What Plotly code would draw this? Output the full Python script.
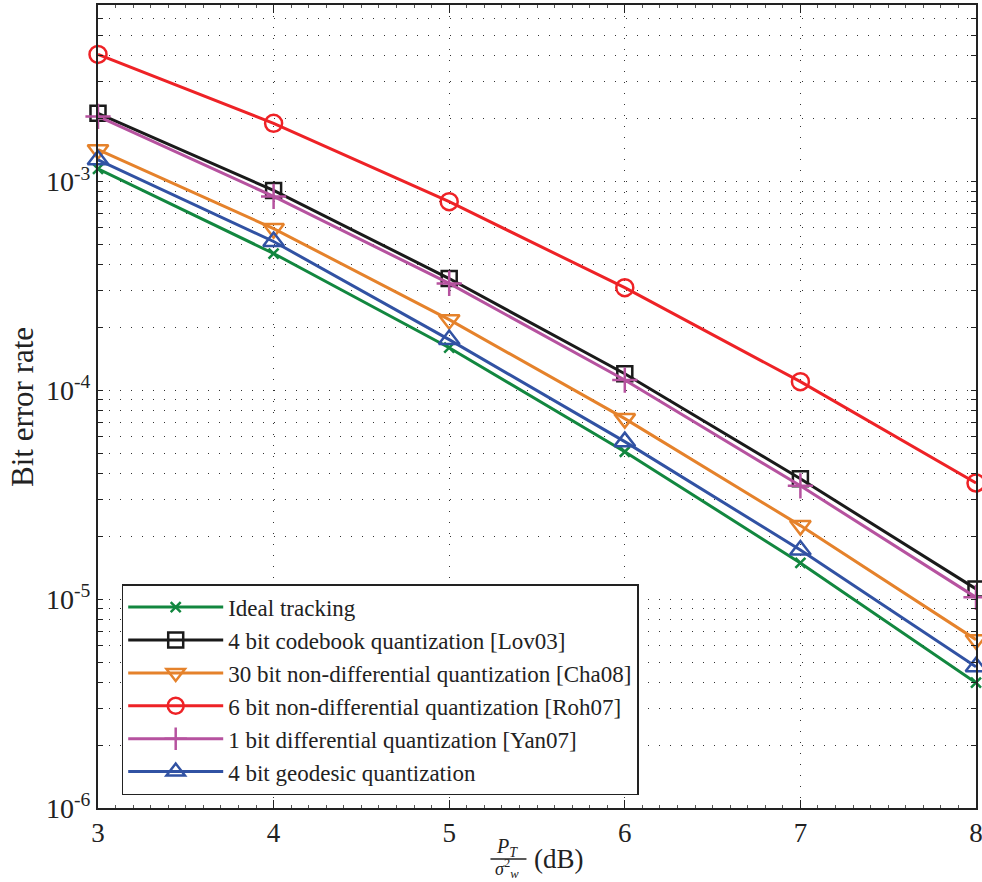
import math
import plotly.graph_objects as go

snr_db = [3, 4, 5, 6, 7, 8]

ideal = [1.15e-3, 4.52e-4, 1.60e-4, 5.08e-5, 1.49e-5, 3.98e-6]
lov03 = [2.12e-3, 9.06e-4, 3.43e-4, 1.20e-4, 3.77e-5, 1.12e-5]
cha08 = [1.42e-3, 5.95e-4, 2.18e-4, 7.32e-5, 2.25e-5, 6.4e-6]
roh07 = [4.06e-3, 1.90e-3, 8.0e-4, 3.1e-4, 1.10e-4, 3.6e-5]
yan07 = [2.05e-3, 8.48e-4, 3.25e-4, 1.12e-4, 3.49e-5, 1.02e-5]
geodesic = [1.27e-3, 5.16e-4, 1.75e-4, 5.68e-5, 1.72e-5, 4.75e-6]

names = [
    "Ideal tracking",
    "4 bit codebook quantization [Lov03]",
    "30 bit non-differential quantization [Cha08]",
    "6 bit non-differential quantization [Roh07]",
    "1 bit differential quantization [Yan07]",
    "4 bit geodesic quantization",
]
series = [ideal, lov03, cha08, roh07, yan07, geodesic]
colors = ["#12873f", "#1a1a1a", "#e5822b", "#ee2226", "#b6529f", "#3152a3"]
symbols = ["x-thin", "square-open", "triangle-down-open", "circle-open", "cross-thin", "triangle-up-open"]
sizes = [10, 15, 18, 17, 18, 18]

y_min, y_max = 1e-6, 7e-3

# y tick values (decades labelled, minor values unlabelled for dotted grid)
decades = [-6, -5, -4, -3]
ytickvals = []
yticktext = []
for e in decades:
    for k in range(1, 10):
        v = k * 10.0 ** e
        if v > y_max * 1.001:
            break
        ytickvals.append(v)
        yticktext.append(f"10<sup>{e}</sup>" if k == 1 else " ")

fig = go.Figure()
for name, ys, c, s, sz in zip(names, series, colors, symbols, sizes):
    fig.add_trace(go.Scatter(
        x=snr_db, y=ys, name=name, mode="lines+markers",
        line=dict(color=c, width=3),
        marker=dict(symbol=s, size=sz, color=c, line=dict(color=c, width=2.5)),
        cliponaxis=False,
    ))

font_family = "Liberation Serif"

fig.update_layout(
    width=982, height=882,
    margin=dict(l=98, r=6, t=5, b=74),
    paper_bgcolor="white", plot_bgcolor="white",
    font=dict(family=font_family, size=24, color="#222222"),
    showlegend=True,
    legend=dict(
        x=0.027, y=0.016, xanchor="left", yanchor="bottom",
        bgcolor="white", bordercolor="#222222", borderwidth=1.5,
        font=dict(family=font_family, size=23, color="#222222"),
        tracegroupgap=0, itemwidth=95,
    ),
    xaxis=dict(
        range=[3, 8], tickvals=snr_db, ticktext=[str(v) for v in snr_db],
        showgrid=True, gridcolor="#333333", griddash="1px,10px", gridwidth=1,
        showline=True, linecolor="#222222", linewidth=2, mirror="ticks",
        ticks="inside", ticklen=8, tickcolor="#222222",
        zeroline=False, tickfont=dict(size=27), automargin=False,
        ticklabeloverflow="allow",
        minor=dict(dtick=0.1, ticks="inside", ticklen=3, tickcolor="#555555", showgrid=False),
    ),
    yaxis=dict(
        type="log", range=[math.log10(y_min), math.log10(y_max)],
        tickvals=ytickvals, ticktext=yticktext,
        showgrid=True, gridcolor="#333333", griddash="1px,10px", gridwidth=1,
        showline=True, linecolor="#222222", linewidth=2, mirror="ticks",
        ticks="inside", ticklen=5, tickcolor="#222222",
        zeroline=False, tickfont=dict(size=28), automargin=False,
        ticklabeloverflow="allow",
    ),
)

# y-axis title
fig.add_annotation(xref="paper", yref="paper", x=-0.0854, y=0.4994, xanchor="center", yanchor="middle",
                   text="Bit error rate", textangle=-90, showarrow=False, font=dict(size=31))

# x-axis title as a stacked fraction: P_T / sigma_w^2 (dB)
fig.add_annotation(xref="paper", yref="paper", x=0.466, y=-0.049, yanchor="middle",
                   text="<i>P<sub>T</sub></i>", showarrow=False, font=dict(size=20))
fig.add_annotation(xref="paper", yref="paper", x=0.466, y=-0.075, yanchor="middle",
                   text="<i>σ</i><sup>2</sup><sub><i>w</i></sub>", showarrow=False, font=dict(size=18))
fig.add_annotation(xref="paper", yref="paper", x=0.494, y=-0.063, yanchor="middle", xanchor="left",
                   text="(dB)", showarrow=False, font=dict(size=27))
fig.add_shape(type="line", xref="paper", yref="paper", x0=0.447, x1=0.488, y0=-0.0635, y1=-0.0635,
              line=dict(color="#222222", width=1.5))

fig.write_html("out.html", config={"displayModeBar": False},
               post_script="document.body.style.margin='0px';document.body.style.overflow='hidden';")
